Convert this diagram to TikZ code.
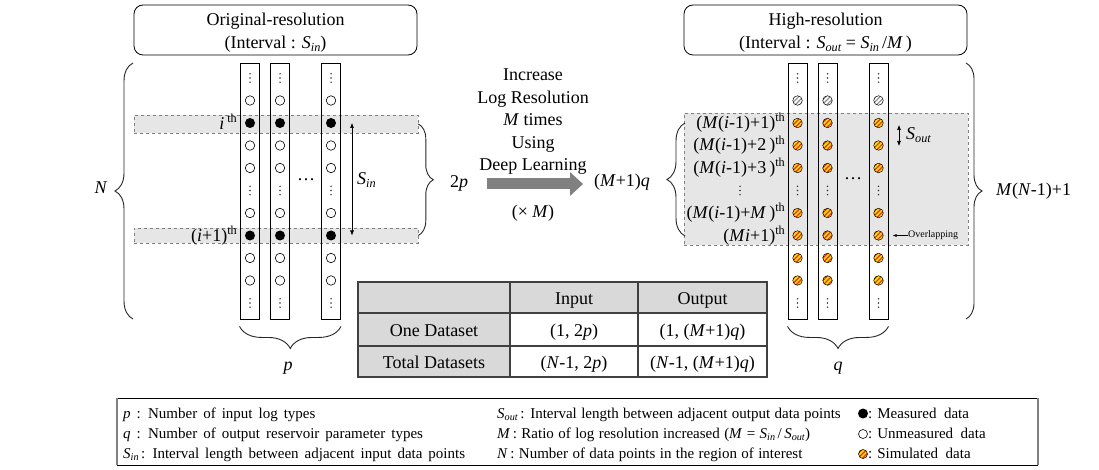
\documentclass[tikz,border=0pt]{standalone}
\usepackage{fontspec}
\setmainfont{Liberation Serif}
\usepackage{graphicx}
\usetikzlibrary{arrows.meta,decorations.pathreplacing,patterns.meta,calc}
\newcommand{\vi}[1]{\textit{#1}}
\newcommand{\sbs}[1]{\raisebox{-0.35ex}{\scalebox{0.68}{\textit{#1}}}}
\newcommand{\sps}[1]{\raisebox{0.8ex}{\scalebox{0.68}{#1}}}
\newcommand{\legfont}{\fontsize{15}{18}\selectfont}
\newcommand{\wsp}{\spaceskip=6pt plus 2pt\relax}
\newcommand{\wsq}{\spaceskip=4.4pt plus 2pt\relax}
\definecolor{bandgray}{HTML}{E6E6E6}
\definecolor{tabgray}{HTML}{D9D9D9}
\definecolor{tabline}{HTML}{404040}
\definecolor{simyellow}{HTML}{FFDC00}
\definecolor{simred}{HTML}{E0301E}
\definecolor{arrgray}{HTML}{808080}
\tikzset{vdots/.pic={\foreach \d in {-4.2,0,4.2} \fill[black!80] (0,\d) circle[radius=0.8pt];}}
\begin{document}
\begin{tikzpicture}[x=1pt,y=-1pt,
  txt/.style={font=\fontsize{18}{22.5}\selectfont, inner sep=0pt},
  leg/.style={font=\legfont, inner sep=0pt, anchor=base west},
  col/.style={draw=black, line width=0.9pt, minimum width=19pt, minimum height=256pt, inner sep=0pt},
  band/.style={fill=bandgray, draw=gray, dashed, line width=0.6pt, inner sep=0pt},
  title/.style={draw=black, line width=0.8pt, rounded corners=9pt, minimum width=283pt, minimum height=50pt, inner sep=0pt},
  meas/.style={circle, fill=black, minimum size=10pt, inner sep=0pt},
  unm/.style={circle, draw=black, fill=white, line width=0.6pt, minimum size=9.5pt, inner sep=0pt},
  sim/.style={circle, draw=black, line width=0.5pt, minimum size=9.5pt, inner sep=0pt,
     preaction={fill=simyellow}, pattern={Lines[angle=45,distance=3.2pt,line width=1.2pt]}, pattern color=simred},
  ghat/.style={circle, draw=black, line width=0.5pt, minimum size=9.5pt, inner sep=0pt,
     preaction={fill=white}, pattern={Lines[angle=45,distance=3.2pt,line width=1.2pt]}, pattern color=gray!90},
  brc/.style={decorate, draw=black!85, line width=0.9pt},
  dbl/.style={{Latex[length=5pt,width=4pt]}-{Latex[length=5pt,width=4pt]}, line width=0.6pt},
]
\fill[white] (0,0) rectangle (1099,470);
\useasboundingbox (0,0) rectangle (1099,470);

% ---------- titles ----------
\node[title] (tl) at (275.5,30) {};
\node[txt, anchor=base] (tl1) at (275.5,26) {Original-resolution};
\node[txt, anchor=base] (tl2) at (275.5,49) {(Interval : \vi{S}\sbs{in})};
\node[title] (tr) at (825.5,30) {};
\node[txt, anchor=base] (tr1) at (825.5,26) {High-resolution};
\node[txt, anchor=base] (tr2) at (825.5,49) {(Interval : \vi{S}\sbs{out} = \vi{S}\sbs{in}\,/\vi{M}\,)};

% ---------- left part ----------
\node[band, minimum width=284pt, minimum height=18pt] (B1) at (276,124) {};
\node[band, minimum width=284pt, minimum height=15pt] (B2) at (276,235.5) {};
\node[col] (LC1) at (249.5,191) {};
\node[col] (LC2) at (279.5,191) {};
\node[col] (LC3) at (331,191) {};
\foreach \c/\x in {1/250,2/280,3/331}{
  \foreach \k in {1,3,4,6,8,9} \node[unm] (L\c-\k) at (\x,{78+22.5*\k}) {};
  \foreach \k in {2,7} \node[meas] (L\c-\k) at (\x,{78+22.5*\k}) {};
  \foreach \k in {0,5,10} \pic at (\x,{78+22.5*\k}) {vdots};
}
\node[txt, anchor=base] (ldots) at (306,181) {\dots};
\node[txt, anchor=base east] (lith) at (237,129.5) {\vi{i}\,\sps{th}};
\node[txt, anchor=base east] (lip1) at (237,241) {(\vi{i}+1)\sps{th}};
\coordinate (sinT) at (352,123);
\coordinate (sinB) at (352,235.5);
\draw[dbl] (sinT) -- (sinB);
\node[txt, anchor=base west] (sin) at (357,185) {\vi{S}\sbs{in}};
\draw[brc, decoration={brace,amplitude=18pt}] (133,319) -- (133,63);
\node[txt, anchor=base] (N) at (101,194) {\vi{N}};
\draw[brc, decoration={brace,amplitude=15pt}] (B1.east) -- (B2.east);
\node[txt, anchor=base] (twop) at (459,188) {2\vi{p}};
\draw[brc, decoration={brace,amplitude=22pt}] ([yshift=-7pt]LC3.south east) -- ([yshift=-7pt]LC1.south west);
\node[txt, anchor=base] (p) at (288,370) {\vi{p}};

% ---------- middle ----------
\node[txt, anchor=base] (m1) at (533,81) {Increase};
\node[txt, anchor=base] (m2) at (533,104) {Log Resolution};
\node[txt, anchor=base] (m3) at (533,126) {\vi{M} times};
\node[txt, anchor=base] (m4) at (533,149) {Using};
\node[txt, anchor=base] (m5) at (533,171) {Deep Learning};
\coordinate (aS) at (487,184);
\coordinate (aE) at (583,184);
\draw[arrgray, line width=11pt, -{Triangle[length=13pt,width=23pt]}] (aS) -- (aE);
\node[txt, anchor=base] (xm) at (533,218) {(× \vi{M})};
\node[txt, anchor=base] (mq) at (622,187) {(\vi{M}+1)\vi{q}};

% ---------- right part ----------
\node[band, minimum width=284pt, minimum height=132pt] (RB) at (826,179) {};
\node[col] (RC1) at (797.5,191) {};
\node[col] (RC2) at (827.5,191) {};
\node[col] (RC3) at (878.5,191) {};
\foreach \c/\x in {1/797.5,2/827.5,3/878.5}{
  \node[ghat] (R\c-1) at (\x,100.5) {};
  \foreach \k in {2,3,4,6,7,8,9} \node[sim] (R\c-\k) at (\x,{78+22.5*\k}) {};
  \foreach \k in {0,5,10} \pic at (\x,{78+22.5*\k}) {vdots};
}
\node[txt, anchor=base] (rdots) at (853,180) {\dots};
\node[txt, anchor=base east] (r2) at (785,128.5) {(\vi{M}(\vi{i}-1)+1)\sps{th}};
\node[txt, anchor=base east] (r3) at (785,151) {(\vi{M}(\vi{i}-1)+2\,)\sps{th}};
\node[txt, anchor=base east] (r4) at (785,173.5) {(\vi{M}(\vi{i}-1)+3\,)\sps{th}};
\pic at (740,190.5) {vdots};
\node[txt, anchor=base east] (r6) at (785,218.5) {(\vi{M}(\vi{i}-1)+\vi{M}\,)\sps{th}};
\node[txt, anchor=base east] (r7) at (785,241) {(\vi{M}\vi{i}+1)\sps{th}};
\coordinate (soT) at (899,125);
\coordinate (soB) at (899,146);
\draw[dbl] (soT) -- (soB);
\node[txt, anchor=base west] (sout) at (906,140) {\vi{S}\sbs{out}};
\node[font=\fontsize{10}{12}\selectfont, inner sep=0pt, anchor=west] (ovl) at (908,235.5) {Overlapping};
\draw[-{Latex[length=4pt,width=3pt]}, line width=0.6pt] (ovl.west) -- ([xshift=9pt]R3-7.east);
\draw[brc, decoration={brace,amplitude=18pt}] (685,236) -- (685,123);
\draw[brc, decoration={brace,amplitude=16pt}] (966,63) -- (966,319);
\node[txt, anchor=base west] (mn) at (996,196) {\vi{M}(\vi{N}-1)+1};
\draw[brc, decoration={brace,amplitude=22pt}] ([yshift=-7pt]RC3.south east) -- ([yshift=-7pt]RC1.south west);
\node[txt, anchor=base] (q) at (838,370) {\vi{q}};

% ---------- table ----------
\fill[tabgray] (358,282) rectangle (767,313);
\fill[tabgray] (358,313) rectangle (510,377);
\draw[tabline, line width=1.5pt] (358,282) rectangle (767,377);
\draw[tabline, line width=1.5pt] (358,313) -- (767,313) (358,346) -- (767,346) (510,282) -- (510,377) (638,282) -- (638,377);
\node[txt, anchor=base] (tin) at (574,304) {Input};
\node[txt, anchor=base] (tout) at (702.5,304) {Output};
\node[txt, anchor=base] (tone) at (434,336) {One Dataset};
\node[txt, anchor=base] (t12p) at (574,336) {(1, 2\vi{p})};
\node[txt, anchor=base] (t1mq) at (702.5,336) {(1, (\vi{M}+1)\vi{q})};
\node[txt, anchor=base] (ttot) at (434,368) {Total Datasets};
\node[txt, anchor=base] (tn2p) at (574,368) {(\vi{N}-1, 2\vi{p})};
\node[txt, anchor=base] (tnmq) at (702.5,368) {(\vi{N}-1, (\vi{M}+1)\vi{q})};

% ---------- legend ----------
\draw[black, line width=0.8pt] (117,398) -- (1038,398) (117,465) -- (1038,465);
\draw[gray, line width=2.2pt] (117,398) -- (117,465) (1038,398) -- (1038,465);
\node[leg] (g1) at (123,418) {\wsp\vi{p} : Number of input log types};
\node[leg] (g2) at (123,438.5) {\wsp\vi{q} : Number of output reservoir parameter types};
\node[leg] (g3) at (123,458.5) {\wsp\vi{S}\sbs{in}\,: Interval length between adjacent input data points};
\node[leg] (g4) at (497,418) {\wsq\vi{S}\sbs{out}\,: Interval length between adjacent output data points};
\node[leg] (g5) at (497,438.5) {\wsq\vi{M}\,: Ratio of log resolution increased (\vi{M} = \vi{S}\sbs{in}\,/\,\vi{S}\sbs{out})};
\node[leg] (g6) at (497,458.5) {\wsq\vi{N}\,: Number of data points in the region of interest};
\node[meas, minimum size=10pt] (km) at (863,413.5) {};
\node[unm, minimum size=9pt] (ku) at (863,434) {};
\node[sim, minimum size=9pt] (ks) at (863,454) {};
\node[leg] (g7) at (868,418) {: Measured\hspace{7.5pt}data};
\node[leg] (g8) at (868,438.5) {: Unmeasured\hspace{7.5pt}data};
\node[leg] (g9) at (868,458.5) {: Simulated\hspace{7.5pt}data};
\end{tikzpicture}
\end{document}
